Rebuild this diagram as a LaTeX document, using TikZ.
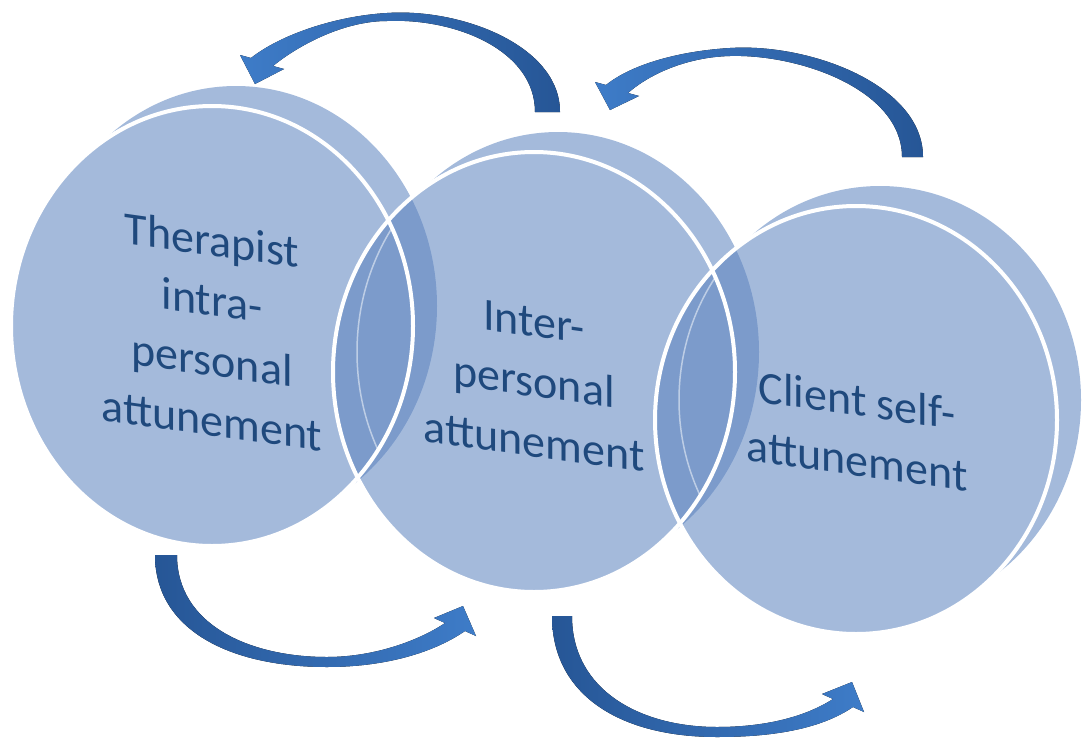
\documentclass[tikz,border=0pt]{standalone}
\usepackage{fontspec}
\setmainfont{Carlito}
\usepackage{tikz}
\usetikzlibrary{positioning}

\definecolor{discblue}{RGB}{90,130,190}
\definecolor{textblue}{RGB}{31,73,125}
\definecolor{arrowdark}{RGB}{38,86,150}
\definecolor{arrowlight}{RGB}{62,124,200}

\begin{document}
\begin{tikzpicture}[x=1pt,y=-1pt,
	disc/.style={fill=discblue},
	rim/.style={draw=white, line width=4pt},
	backrim/.style={draw=white, line width=1.5pt, opacity=0.5},
	caption/.style={text=textblue, font=\fontsize{46}{60}\selectfont, align=center, yslant=-0.14},
	swirlback/.style={left color=arrowlight, right color=arrowdark},
	swirlfore/.style={left color=arrowdark, right color=arrowlight}]
	\useasboundingbox (0,0) rectangle (1086,744);

	% the three discs, back face and front face
	\begin{scope}[transparency group, opacity=0.55]
		\fill[disc] (236,306) ellipse [x radius=201, y radius=220];
		\fill[disc] (212,326) ellipse [x radius=201, y radius=220];
	\end{scope}
	\begin{scope}[transparency group, opacity=0.55]
		\fill[disc] (558,352) ellipse [x radius=201, y radius=220];
		\fill[disc] (534,372) ellipse [x radius=201, y radius=220];
	\end{scope}
	\begin{scope}[transparency group, opacity=0.55]
		\fill[disc] (880,400) ellipse [x radius=201, y radius=214];
		\fill[disc] (856,420) ellipse [x radius=201, y radius=214];
	\end{scope}

	% back edges seen through the neighbour
	\begin{scope}
		\clip (212,326) ellipse [x radius=201, y radius=220];
		\draw[backrim] (558,352) ellipse [x radius=201, y radius=220];
	\end{scope}
	\begin{scope}
		\clip (534,372) ellipse [x radius=201, y radius=220];
		\draw[backrim] (880,400) ellipse [x radius=201, y radius=214];
	\end{scope}

	\draw[rim] (212,326) ellipse [x radius=201, y radius=220];
	\draw[rim] (534,372) ellipse [x radius=201, y radius=220];
	\draw[rim] (856,420) ellipse [x radius=201, y radius=214];

	\node[caption] (therapist) at (212,330) {Therapist\\intra-\\personal\\attunement};
	\node[caption] (inter) at (534,382) {Inter-\\personal\\attunement};
	\node[caption] (client) at (857,430) {Client self-\\attunement};

	% curved arrows
	\coordinate (tlTail) at (560,112);
	\coordinate (tlTip) at (255,84);
	\coordinate (trTail) at (923,157);
	\coordinate (trTip) at (610,110);
	\coordinate (blTail) at (177,555);
	\coordinate (blTip) at (463,606);
	\coordinate (brTail) at (572,616);
	\coordinate (brTip) at (852,682);

	\fill[swirlback] (tlTail) .. controls (560,45) and (460,8) .. (387,13) .. controls (335,16) and (280,35) .. (251,58)
		-- (240,55) -- (tlTip) -- (284,69) -- (273,66) .. controls (300,44) and (345,21) .. (387,21)
		.. controls (455,18) and (535,50) .. (535,112) -- cycle;
	\fill[swirlback] (trTail) .. controls (923,85) and (810,43) .. (730,48) .. controls (680,51) and (632,64) .. (606,85)
		-- (595,82) -- (trTip) -- (639,96) -- (628,93) .. controls (652,72) and (690,57) .. (730,56)
		.. controls (800,54) and (902,90) .. (902,157) -- cycle;
	\fill[swirlfore] (blTail) .. controls (177,625) and (250,657) .. (327,657) .. controls (375,657) and (420,640) .. (445,623)
		-- (434,618) -- (blTip) -- (476,636) -- (465,631) .. controls (430,655) and (380,667) .. (327,667)
		.. controls (230,667) and (155,630) .. (155,555) -- cycle;
	\fill[swirlfore] (brTail) .. controls (572,690) and (640,727) .. (717,727) .. controls (765,727) and (805,717) .. (833,699)
		-- (822,694) -- (brTip) -- (864,712) -- (853,707) .. controls (819,730) and (770,737) .. (717,737)
		.. controls (620,737) and (552,695) .. (552,616) -- cycle;
\end{tikzpicture}
\end{document}
